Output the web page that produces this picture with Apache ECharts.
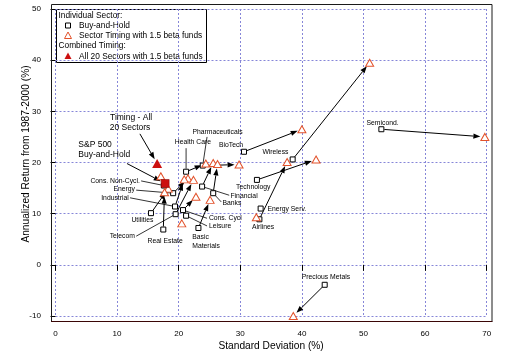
<!DOCTYPE html>
<html><head><meta charset="utf-8">
<script src="https://cdn.jsdelivr.net/npm/echarts@6/dist/echarts.min.js"></script>
<style>html,body{margin:0;padding:0;background:#fff}#c{width:510px;height:358px}</style>
</head><body><div id="c"></div>
<script>
// ---- data ----
const sectors = ['Semicond.','Wireless','BioTech','Technology','Energy Serv.','Airlines','Precious Metals',
  'Pharmaceuticals','Health Care','Financial','Banks','Cons. Cycl','Leisure','Basic Materials',
  'Cons. Non-Cycl.','Energy','Industrial','Utilities','Telecom','Real Estate'];
const buyHoldX = [52.9,38.5,30.6,32.7,33.3,33.1,43.7, 23.9,21.2,23.8,25.6,20.7,21.2,23.2, 17.6,19.1,19.4,15.5,19.5,17.5];
const buyHoldY = [26.5,20.6,22.1,16.6,11.0, 8.9,-3.9, 19.4,18.2,15.3,14.0,10.7, 9.6, 7.2, 15.5,14.0,11.4,10.1, 9.9, 6.9];
const timingX  = [69.7,51.0,40.0,42.3,32.6,37.6,38.6, 29.8,24.4,25.6,26.3,22.8,20.5,25.1, 17.1,21.5,20.9,18.3,22.4,17.7];
const timingY  = [25.0,39.5,26.5,20.6, 9.3,20.1,-10.0,19.6,19.8,19.9,19.7,13.3, 8.1,12.7, 17.3,16.9,16.7,14.9,16.6,14.2];
const sp500BuyHold = [17.8, 15.9];
const allSectorsTiming = [16.5, 19.8];
const xTickLabels = ['0','10','20','30','40','50','60','70'];
const yTickLabels = ['-10','0','10','20','30','40','50'];

// ---- annotation layout (text, x, y, align, leadFromX, leadFromY, target sector index) ----
const annotations = [
  ['Semicond.',53.1,27.7,'center'],
  ['Wireless',35.7,22.0,'center'],
  ['BioTech',28.5,23.4,'center'],
  ['Technology',32.1,15.1,'center'],
  ['Energy Serv.',34.4,10.9,'left',33.9,10.9,4],
  ['Airlines',33.7,7.4,'center'],
  ['Precious Metals',43.9,-2.4,'center'],
  ['Pharmaceuticals',26.3,26.0,'center',24.6,25.0,7],
  ['Health Care',22.3,23.9,'center',21.2,22.8,8],
  ['Financial',28.4,13.5,'left',28.2,13.6,9],
  ['Banks',27.1,12.1,'left',26.9,12.3,10],
  ['Cons. Cycl',24.9,9.1,'left',24.6,9.1,11],
  ['Leisure',24.9,7.6,'left',24.6,7.6,12],
  ['Basic',22.2,5.4,'left'],
  ['Materials',22.2,3.7,'left'],
  ['Cons. Non-Cycl.',13.7,16.4,'right',13.9,16.4,14],
  ['Energy',12.9,14.75,'right',13.1,14.6,15],
  ['Industrial',11.9,13.1,'right',12.1,13.1,16],
  ['Utilities',14.1,8.75,'center'],
  ['Telecom',12.9,5.7,'right',13.1,5.6,18],
  ['Real Estate',17.8,4.7,'center']
];
const bigLabels = [
  ['S&P 500',3.7,23.4,'left'],
  ['Buy-and-Hold',3.7,21.6,'left'],
  ['Timing - All',15.7,28.7,'right'],
  ['20 Sectors',15.4,26.9,'right']
];
const bigArrows = [[11.6,19.8,sp500BuyHold[0],sp500BuyHold[1]],[13.7,25.6,allSectorsTiming[0],allSectorsTiming[1]]];

function hasFont(f){const c=document.createElement('canvas').getContext('2d');c.font='20px monospace';const a=c.measureText('abcdefghijklmWwi0123').width;c.font='20px "'+f+'", monospace';return Math.abs(c.measureText('abcdefghijklmWwi0123').width-a)>0.5;}
const NARROW = hasFont('Liberation Sans Narrow');
const FF = NARROW ? '"Liberation Sans Narrow"' : '"Liberation Sans"';
const k = NARROW ? 1 : 0.85;
const ANN = 8*k, TICK = 9.5*k, TITLE = 12*k, BIG = 10*k, LEG = 9.8*k;

const TRI = '#e2522b', RED = '#cc1010';

function arrowItem(p1, p2, startPad, endPad, head){
  const dx=p2[0]-p1[0], dy=p2[1]-p1[1], L=Math.hypot(dx,dy);
  if (L < startPad+endPad+4) return null;
  const ux=dx/L, uy=dy/L;
  const s=[p1[0]+ux*startPad, p1[1]+uy*startPad];
  const e=[p2[0]-ux*endPad, p2[1]-uy*endPad];
  const children=[];
  if (head){
    const ah=Math.min(7, L*0.5), aw=2.6;
    const b=[e[0]-ux*ah, e[1]-uy*ah];
    children.push({type:'line',shape:{x1:s[0],y1:s[1],x2:b[0],y2:b[1]},style:{stroke:'#000',lineWidth:1}});
    children.push({type:'polygon',shape:{points:[e,[b[0]-uy*aw,b[1]+ux*aw],[b[0]+uy*aw,b[1]-ux*aw]]},style:{fill:'#000'}});
  } else {
    children.push({type:'line',shape:{x1:s[0],y1:s[1],x2:e[0],y2:e[1]},style:{stroke:'#000',lineWidth:0.8}});
  }
  return {type:'group',children};
}

const chart = echarts.init(document.getElementById('c'), null, {renderer:'canvas'});
const axisCommon = {
  axisLine:{show:false},
  axisTick:{show:true,inside:false,lineStyle:{color:'#000',width:1}},
  splitLine:{show:true,lineStyle:{color:'#8686d8',type:[2,2],width:1}},
  nameMoveOverlap:false
};
chart.setOption({
  animation:false,
  grid:{left:55.5,right:23.3,top:9,bottom:42},
  xAxis:Object.assign({},axisCommon,{
    type:'value',min:0,max:70,interval:10,offset:5.7,
    axisTick:Object.assign({},axisCommon.axisTick,{length:6}),
    axisLabel:{fontFamily:FF,fontSize:TICK,color:'#000',margin:8,formatter:(v)=>xTickLabels[Math.round(v/10)]},
    name:'Standard Deviation (%)',nameLocation:'middle',nameGap:19,
    nameTextStyle:{fontFamily:FF,fontSize:TITLE,color:'#000'}
  }),
  yAxis:Object.assign({},axisCommon,{
    type:'value',min:-10,max:50,interval:10,offset:4.5,
    axisTick:Object.assign({},axisCommon.axisTick,{length:5}),
    axisLabel:{fontFamily:FF,fontSize:TICK,color:'#000',margin:10,formatter:(v)=>yTickLabels[Math.round(v/10)+1]},
    name:'Annualized Return from 1987-2000 (%)',nameLocation:'middle',nameGap:20,
    nameTextStyle:{fontFamily:FF,fontSize:TITLE,color:'#000',padding:[0,0,0,17]}
  }),
  series:[
    { type:'custom', z:2, silent:true,
      data: sectors.map((s,i)=>[buyHoldX[i],buyHoldY[i],timingX[i],timingY[i]]),
      renderItem:(p,api)=>arrowItem(api.coord([api.value(0),api.value(1)]),api.coord([api.value(2),api.value(3)]),3,4.5,true)
    },
    { type:'custom', z:2, silent:true,
      data: annotations.filter(a=>a.length>4).map(a=>[a[4],a[5],buyHoldX[a[6]],buyHoldY[a[6]]]),
      renderItem:(p,api)=>arrowItem(api.coord([api.value(0),api.value(1)]),api.coord([api.value(2),api.value(3)]),0,3,false)
    },
    { type:'custom', z:2, silent:true,
      data: bigArrows,
      renderItem:(p,api)=>arrowItem(api.coord([api.value(0),api.value(1)]),api.coord([api.value(2),api.value(3)]),0,5,true)
    },
    { type:'scatter', z:3, name:'Buy-and-Hold', symbol:'rect', symbolSize:5,
      itemStyle:{color:'#fff',borderColor:'#000',borderWidth:1,opacity:1},
      data: sectors.map((s,i)=>[buyHoldX[i],buyHoldY[i]])
    },
    { type:'scatter', z:4, name:'Sector Timing with 1.5 beta funds', symbol:'triangle', symbolSize:[8,7],
      itemStyle:{color:'#fff',borderColor:TRI,borderWidth:1,opacity:1},
      data: sectors.map((s,i)=>[timingX[i],timingY[i]])
    },
    { type:'scatter', z:5, name:'S&P 500', symbol:'rect', symbolSize:8,
      itemStyle:{color:RED,borderColor:'#7a0000',borderWidth:0.5,opacity:1},
      data:[sp500BuyHold]
    },
    { type:'scatter', z:5, name:'All 20 Sectors with 1.5 beta funds', symbol:'triangle', symbolSize:[10,9],
      itemStyle:{color:RED,opacity:1},
      data:[allSectorsTiming]
    },
    { type:'custom', z:6, silent:true,
      data: annotations.map(a=>[a[1],a[2]]),
      renderItem:(p,api)=>{
        const a=annotations[p.dataIndex], pt=api.coord([api.value(0),api.value(1)]);
        return {type:'text',x:pt[0],y:pt[1],style:{text:a[0],fill:'#000',font:ANN+'px '+FF,align:a[3],textAlign:a[3],verticalAlign:'middle',textVerticalAlign:'middle'}};
      }
    },
    { type:'custom', z:6, silent:true,
      data: bigLabels.map(a=>[a[1],a[2]]),
      renderItem:(p,api)=>{
        const a=bigLabels[p.dataIndex], pt=api.coord([api.value(0),api.value(1)]);
        return {type:'text',x:pt[0],y:pt[1],style:{text:a[0],fill:'#000',font:BIG+'px '+FF,align:a[3],textAlign:a[3],verticalAlign:'middle',textVerticalAlign:'middle'}};
      }
    }
  ],
  graphic:[
    {type:'rect',z:50,shape:{x:51.5,y:4.5,width:440.5,height:317},style:{fill:null,stroke:'#1a1a1a',lineWidth:1},silent:true},
    {type:'line',z:51,shape:{x1:51,y1:321.5,x2:492.5,y2:321.5},style:{stroke:'#3a0606',lineWidth:1},silent:true},
    {type:'group',z:60,silent:true,children:[
      {type:'rect',shape:{x:56.5,y:9.5,width:150,height:53},style:{fill:'#fff',stroke:'#000',lineWidth:1}},
      {type:'text',style:{text:'Individual Sector:',x:58.5,y:15.5,font:LEG+'px '+FF,fill:'#000',verticalAlign:'middle',textVerticalAlign:'middle'}},
      {type:'rect',shape:{x:65.5,y:23,width:5,height:5},style:{fill:'#fff',stroke:'#000',lineWidth:1}},
      {type:'text',style:{text:'Buy-and-Hold',x:79,y:25.5,font:LEG+'px '+FF,fill:'#000',verticalAlign:'middle',textVerticalAlign:'middle'}},
      {type:'polygon',shape:{points:[[68,32],[71.5,38.5],[64.5,38.5]]},style:{fill:'#fff',stroke:TRI,lineWidth:1}},
      {type:'text',style:{text:'Sector Timing with 1.5 beta funds',x:79,y:35.5,font:LEG+'px '+FF,fill:'#000',verticalAlign:'middle',textVerticalAlign:'middle'}},
      {type:'text',style:{text:'Combined Timing:',x:58.5,y:46,font:LEG+'px '+FF,fill:'#000',verticalAlign:'middle',textVerticalAlign:'middle'}},
      {type:'polygon',shape:{points:[[68,52.5],[71.5,59],[64.5,59]]},style:{fill:RED}},
      {type:'text',style:{text:'All 20 Sectors with 1.5 beta funds',x:79,y:56.5,font:LEG+'px '+FF,fill:'#000',verticalAlign:'middle',textVerticalAlign:'middle'}}
    ]}
  ]
});
</script></body></html>
